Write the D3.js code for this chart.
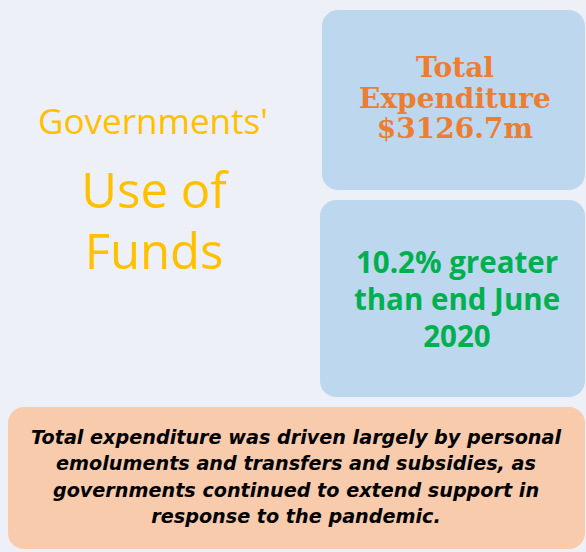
<!DOCTYPE html>
<html lang="en">
<head>
  <meta charset="UTF-8" />
  <title>Governments' Use of Funds</title>
  <script src="https://d3js.org/d3.v7.min.js"></script>
  <style>
    body { margin: 0; background: #edf0f7; }
    svg { display: block; }
  </style>
</head>
<body>
  <svg></svg>

  <script>
    const titleLines = ["Governments'", "Use of", "Funds"];
    const totalLines = ["Total", "Expenditure", "$3126.7m"];
    const changeLines = ["10.2% greater", "than end June", "2020"];
    const noteLines = [
      "Total expenditure was driven largely by personal",
      "emoluments and transfers and subsidies, as",
      "governments continued to extend support in",
      "response to the pandemic."
    ];

    const width = 586, height = 552;
    const svg = d3.select("svg").attr("width", width).attr("height", height);

    svg.append("rect").attr("width", width).attr("height", height).attr("fill", "#edf0f7");

    // boxes
    const boxes = [
      { x: 322, y: 10, w: 263, h: 180, fill: "#bdd7ee" },
      { x: 320, y: 200, w: 265, h: 197, fill: "#bdd7ee" },
      { x: 8, y: 407, w: 577, h: 142, fill: "#f8cbad" }
    ];
    svg.selectAll("rect.box")
      .data(boxes)
      .join("rect")
      .attr("class", "box")
      .attr("x", d => d.x).attr("y", d => d.y)
      .attr("width", d => d.w).attr("height", d => d.h)
      .attr("rx", 16)
      .attr("fill", d => d.fill);

    function block(lines, opts) {
      const y = d3.scalePoint().domain(d3.range(lines.length)).range(opts.y);
      svg.append("g").selectAll("text")
        .data(lines)
        .join("text")
        .attr("x", opts.x)
        .attr("y", (d, i) => y(i))
        .attr("text-anchor", "middle")
        .attr("fill", opts.color)
        .style("font-family", opts.font)
        .style("font-size", opts.size + "px")
        .style("font-weight", opts.weight || "normal")
        .style("font-style", opts.style || "normal")
        .text(d => d);
    }

    block([titleLines[0]], { x: 153, y: [134, 134], color: "#ffc000", font: "'Open Sans', sans-serif", size: 35 });
    block(titleLines.slice(1), { x: 154, y: [208, 269], color: "#ffc000", font: "'Open Sans', sans-serif", size: 49 });

    block(totalLines, { x: 455, y: [77, 138], color: "#ed7d31", font: "'DejaVu Serif', serif", size: 28, weight: "bold" });
    block(changeLines, { x: 457, y: [273, 347], color: "#00b050", font: "'Open Sans', sans-serif", size: 29.5, weight: "bold" });
    block(noteLines, { x: 296, y: [444, 523], color: "#000", font: "'DejaVu Sans', sans-serif", size: 19.2, weight: "bold", style: "italic" });
  </script>
</body>
</html>
